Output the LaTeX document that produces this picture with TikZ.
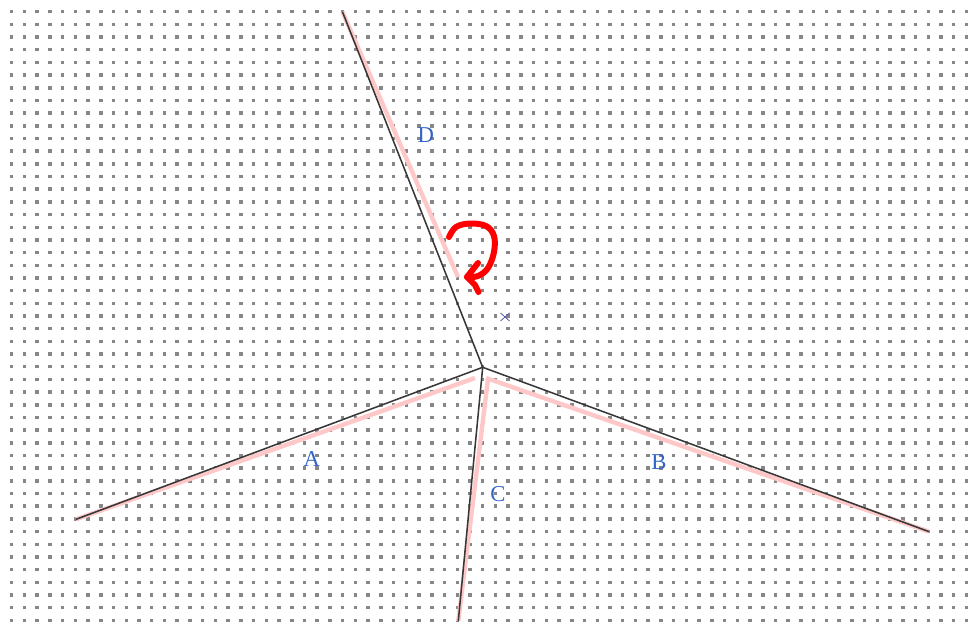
\documentclass[tikz,border=0pt]{standalone}
\usepackage{fontspec}
\setmainfont{Liberation Serif}
\definecolor{dotgray}{RGB}{135,135,135}
\definecolor{edgegray}{RGB}{55,55,55}
\definecolor{halfpink}{RGB}{255,200,200}
\definecolor{labelblue}{RGB}{50,100,200}
\definecolor{markblue}{RGB}{90,90,170}

\begin{document}
\begin{tikzpicture}[x=0.75pt, y=-0.75pt,
        dot/.style={fill=dotgray},
        edge/.style={draw=edgegray, line width=1.15pt},
        half/.style={draw=halfpink, line width=3.3pt},
        lbl/.style={font=\fontsize{17}{19}\selectfont, text=labelblue, inner sep=0pt},
        turn/.style={draw=red, line width=4.5pt, line cap=round, line join=round}
    ]
        \useasboundingbox (0,0) rectangle (972,625);
        % Dot grid
        \foreach \i in {0,...,75}
            \foreach \j in {0,...,48}
                \fill[dot] ({9.95+\i*12.73},{9.95+\j*12.68}) rectangle +(3.5,3.5);

        % Vertices
        \coordinate (v) at (482.7,367.3);
        \coordinate (a) at (76,519.3);
        \coordinate (b) at (928.9,531.6);
        \coordinate (c) at (458.3,621);
        \coordinate (d) at (342.4,11.7);

        % Half-edge highlights
        \coordinate (pa) at (475,378);
        \coordinate (pb) at (486,378);
        \coordinate (pc) at (488,379);
        \coordinate (pd) at (458,277);
        \draw[half] (a) -- (pa);
        \draw[half] (pb) -- (b);
        \draw[half] (pc) -- (c);
        \draw[half] (d) -- (pd);

        % Edges
        \draw[edge] (v) -- (a);
        \draw[edge] (v) -- (b);
        \draw[edge] (v) -- (c);
        \draw[edge] (v) -- (d);

        % Labels
        \node[lbl] (la) at (311.7,458.7) {A};
        \node[lbl] (lb) at (659,462) {B};
        \node[lbl] (lc) at (498,494) {C};
        \node[lbl] (ld) at (425.8,135.3) {D};

        % Site mark
        \coordinate (s) at (505,317);
        \draw[markblue, line width=0.6pt] (s) ++(-4.5,-4) -- ++(9,8) (s) ++(-4.5,4) -- ++(9,-8);

        % Turn arrow
        \coordinate (tip) at (467,277);
        \draw[turn] plot[smooth, tension=0.6] coordinates {(449,237) (456,227) (470,223.5) (486,226) (494,236) (494,252) (488,268) (478,276) (tip)};
        \draw[turn] (478,263) -- (tip) -- (475,285) -- (478.5,292);
    \end{tikzpicture}
\end{document}
